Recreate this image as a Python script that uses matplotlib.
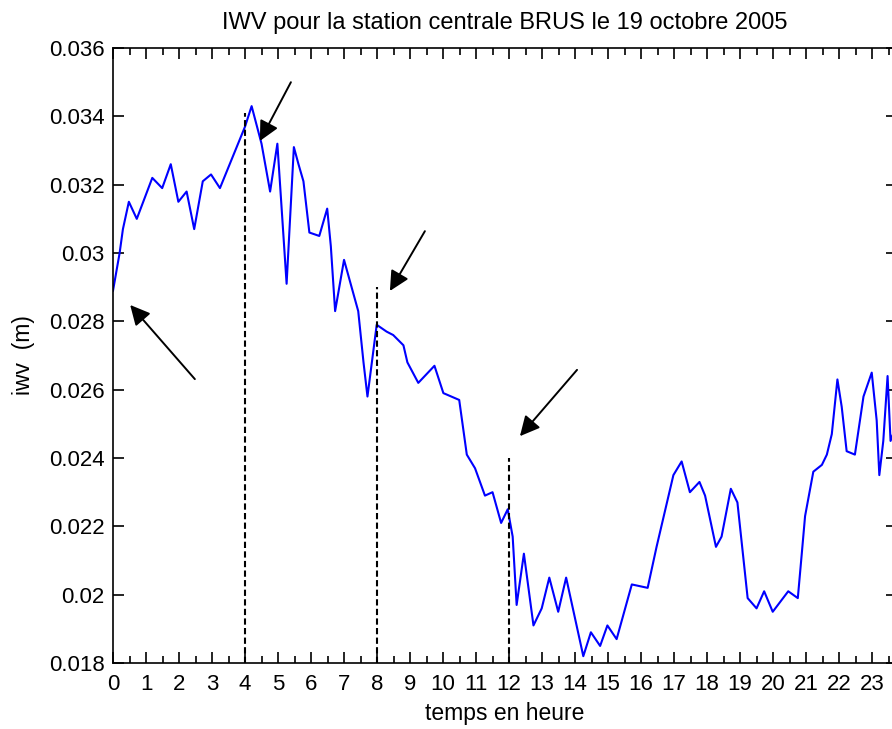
import matplotlib
matplotlib.use("Agg")
import matplotlib.pyplot as plt
from matplotlib.ticker import MultipleLocator

# IWV time series (hours, metres)
hours = [
    0.0, 0.2, 0.3, 0.48, 0.72, 1.19, 1.49, 1.75, 1.98, 2.23,
    2.46, 2.72, 2.97, 3.24, 4.0, 4.2, 4.5, 4.76, 4.98, 5.26,
    5.48, 5.62, 5.77, 5.95, 6.25, 6.49, 6.6, 6.73, 7.0, 7.43,
    7.59, 7.71, 7.79, 7.99, 8.29, 8.49, 8.8, 8.92, 9.25, 9.74,
    10.01, 10.49, 10.72, 10.97, 11.27, 11.5, 11.76, 11.96, 12.11, 12.23,
    12.45, 12.74, 12.99, 13.22, 13.49, 13.73, 14.25, 14.48, 14.76, 14.98,
    15.26, 15.72, 16.2, 16.47, 16.98, 17.23, 17.48, 17.77, 17.94, 18.27,
    18.44, 18.72, 18.92, 19.23, 19.5, 19.73, 19.99, 20.46, 20.75, 20.87,
    20.97, 21.22, 21.48, 21.63, 21.78, 21.95, 22.08, 22.23, 22.48, 22.74,
    22.99, 23.14, 23.22, 23.34, 23.47, 23.56, 23.75,
]
iwv = [
    0.0289, 0.0300, 0.0307, 0.0315, 0.0310, 0.0322, 0.0319, 0.0326, 0.0315, 0.0318,
    0.0307, 0.0321, 0.0323, 0.0319, 0.0337, 0.0343, 0.0332, 0.0318, 0.0332, 0.0291,
    0.0331, 0.0326, 0.0321, 0.0306, 0.0305, 0.0313, 0.0302, 0.0283, 0.0298, 0.0283,
    0.0268, 0.0258, 0.0264, 0.0279, 0.0277, 0.0276, 0.0273, 0.0268, 0.0262, 0.0267,
    0.0259, 0.0257, 0.0241, 0.0237, 0.0229, 0.0230, 0.0221, 0.0225, 0.0217, 0.0197,
    0.0212, 0.0191, 0.0196, 0.0205, 0.0195, 0.0205, 0.0182, 0.0189, 0.0185, 0.0191,
    0.0187, 0.0203, 0.0202, 0.0214, 0.0235, 0.0239, 0.0230, 0.0233, 0.0229, 0.0214,
    0.0217, 0.0231, 0.0227, 0.0199, 0.0196, 0.0201, 0.0195, 0.0201, 0.0199, 0.0212,
    0.0223, 0.0236, 0.0238, 0.0241, 0.0247, 0.0263, 0.0255, 0.0242, 0.0241, 0.0258,
    0.0265, 0.0251, 0.0235, 0.0245, 0.0264, 0.0245, 0.0250,
]

# vertical dashed markers and their top values
mark_hours = [4, 8, 12]
mark_tops = [0.0341, 0.0290, 0.0240]

# arrows: (tip hour, tip value, tail hour, tail value)
arrows = [
    (0.52, 0.02848, 2.48, 0.02631),
    (4.45, 0.03328, 5.39, 0.03500),
    (8.39, 0.02889, 9.45, 0.03064),
    (12.33, 0.02464, 14.06, 0.02658),
]

ytick_vals = [0.018, 0.020, 0.022, 0.024, 0.026, 0.028, 0.030, 0.032, 0.034, 0.036]
ytick_labels = ["0.018", "0.02", "0.022", "0.024", "0.026", "0.028", "0.03",
                "0.032", "0.034", "0.036"]
xtick_vals = list(range(24))

plt.rcParams["font.family"] = ["Liberation Sans", "DejaVu Sans"]

fig = plt.figure(figsize=(8.92, 7.29), dpi=100)
ax = fig.add_axes([0.1267, 0.0905, 0.8787, 0.8436])

ax.plot(hours, iwv, color="#0000ff", lw=1.5)
ax.vlines(mark_hours, 0.018, mark_tops, colors="black", lw=1.5,
          linestyles=(0, (3, 1.6)))

for tx, ty, sx, sy in arrows:
    ax.annotate("", xy=(tx, ty), xytext=(sx, sy),
                arrowprops=dict(arrowstyle="-|>,head_length=0.6,head_width=0.3",
                                color="black", lw=1.4, mutation_scale=20,
                                shrinkA=0, shrinkB=0))

ax.set_xlim(0, 23.75)
ax.set_ylim(0.018, 0.036)
ax.set_xticks(xtick_vals)
ax.set_xticklabels([str(v) for v in xtick_vals])
ax.xaxis.set_minor_locator(MultipleLocator(0.5))
ax.set_yticks(ytick_vals)
ax.set_yticklabels(ytick_labels)

ax.tick_params(which="both", direction="in", top=True, right=True,
               labelsize=16, width=1.2)
ax.tick_params(axis="x", which="major", length=8, pad=8)
ax.tick_params(axis="x", which="minor", length=5)
ax.tick_params(axis="y", which="major", length=8, pad=6)
for s in ax.spines.values():
    s.set_linewidth(1.2)

ax.set_title("IWV pour la station centrale BRUS le 19 octobre 2005",
             fontsize=17, pad=14)
ax.set_xlabel("temps en heure", fontsize=16.5, labelpad=5)
ax.set_ylabel("iwv  (m)", fontsize=16.5, labelpad=10)

fig.savefig("out.png", dpi=100)
